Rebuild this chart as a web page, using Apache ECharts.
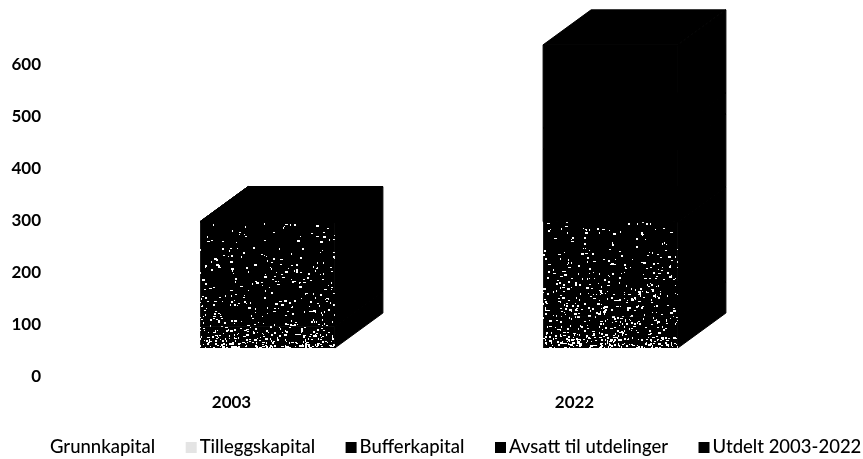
<!DOCTYPE html>
<html>
<head>
<meta charset="utf-8">
<style>html,body{margin:0;padding:0;background:#fff}#chart{width:863px;height:459px}</style>
<script src="https://cdn.jsdelivr.net/npm/echarts@6/dist/echarts.min.js"></script>
</head>
<body>
<div id="chart"></div>
<script>
// 数据
var years = ['2003', '2022'];
var ticks = [0, 100, 200, 300, 400, 500, 600];
var grunnkapital = [42, 60];
var tilleggskapital = [201, 183];
var bufferkapital = [0, 140];
var avsatt = [0, 40];
var utdelt = [0, 160];

var seriesNames = ['Grunnkapital', 'Tilleggskapital', 'Bufferkapital', 'Avsatt til utdelinger', 'Utdelt 2003-2022'];
var seriesValues = [grunnkapital, tilleggskapital, bufferkapital, avsatt, utdelt];

// 黑底白点纹理 (only a fill texture, not data)
function speckle(top, bottom, densTop, densBottom) {
  var c = document.createElement('canvas');
  c.width = 863;
  c.height = 459;
  var ctx = c.getContext('2d');
  ctx.fillStyle = '#000';
  ctx.fillRect(0, 0, 863, 459);
  ctx.fillStyle = '#fff';
  var seed = 4711;
  function next() {
    seed = (seed * 1103515245 + 12345) & 0x7fffffff;
    return seed / 0x7fffffff;
  }
  for (var y = 0; y < 459; y += 2) {
    var t = Math.min(1, Math.max(0, (y - top) / (bottom - top)));
    var d = densTop + (densBottom - densTop) * t * t;
    for (var x = 0; x < 863; x += 2) {
      var a = next(), b = next(), e = next(), f = next(), g = next();
      if (a < d) {
        ctx.fillRect(x + Math.floor(b * 2), y + Math.floor(e * 2), 1 + Math.floor(f * 2.4), 1 + Math.floor(g * 2));
      }
    }
  }
  return c;
}

var fills = [
  { image: speckle(322, 350, 0.18, 0.55), repeat: 'repeat' },
  { image: speckle(225, 322, 0.04, 0.17), repeat: 'repeat' },
  '#000', '#000', '#000'
];

function renderBar(params, api) {
  var start = api.coord([api.value(0), api.value(1)]);
  var end = api.coord([api.value(0), api.value(2)]);
  var w = api.size([1, 0])[0] * 0.393;
  // 3D 偏移
  var x0 = start[0] + 36 - w / 2;
  var x1 = x0 + w;
  var y0 = start[1] - 29;
  var y1 = end[1] - 29;
  var dx = 48, dy = 35;
  var solid = { fill: '#000', stroke: '#000', lineWidth: 1 };
  var front = { fill: fills[params.seriesIndex] };
  if (params.seriesIndex > 1) {
    front.stroke = '#000';
    front.lineWidth = 1;
  }
  return {
    type: 'group',
    children: [
      { type: 'polygon', shape: { points: [[x1, y0], [x1 + dx, y0 - dy], [x1 + dx, y1 - dy], [x1, y1]] }, style: solid },
      { type: 'polygon', shape: { points: [[x0, y1], [x1, y1], [x1 + dx, y1 - dy], [x0 + dx, y1 - dy]] }, style: solid },
      { type: 'polygon', shape: { points: [[x0, y0], [x1, y0], [x1, y1], [x0, y1]] }, style: front }
    ]
  };
}

var series = [];
var base = years.map(function () { return 0; });
seriesNames.forEach(function (name, s) {
  var rows = years.map(function (y, i) {
    var row = [i, base[i], base[i] + seriesValues[s][i]];
    base[i] += seriesValues[s][i];
    return row;
  });
  series.push({
    name: name,
    type: 'custom',
    renderItem: renderBar,
    clip: false,
    silent: true,
    itemStyle: { color: s === 0 ? '#fff' : (s === 1 ? '#e4e4e4' : '#000') },
    encode: { x: 0, y: [1, 2] },
    data: rows
  });
});

var myChart = echarts.init(document.getElementById('chart'), null, { renderer: 'canvas' });
var option = {
  backgroundColor: '#fff',
  animation: false,
  grid: { left: 60, right: 117, top: 65, bottom: 82 },
  legend: {
    left: 36,
    top: 438,
    padding: [0, 0, 0, 0],
    icon: 'rect',
    itemWidth: 11,
    itemHeight: 11,
    itemGap: 30.5,
    selectedMode: false,
    textStyle: { fontFamily: 'Lato', fontSize: 18.5, fontWeight: 500, color: '#000', padding: [0, 0, 0, -2] },
    data: seriesNames
  },
  xAxis: {
    type: 'category',
    data: years,
    axisLine: { show: false },
    axisTick: { show: false },
    axisLabel: { margin: 17, color: '#000', fontFamily: 'Lato', fontSize: 17, fontWeight: 'bold' }
  },
  yAxis: {
    type: 'value',
    min: ticks[0],
    max: ticks[ticks.length - 1],
    interval: 100,
    axisLine: { show: false },
    axisTick: { show: false },
    splitLine: { show: false },
    axisLabel: { margin: 19, color: '#000', fontFamily: 'Lato', fontSize: 17, fontWeight: 'bold' }
  },
  series: series
};
myChart.setOption(option);
window.addEventListener('resize', function () {
  myChart.resize();
});
</script>
</body>
</html>
